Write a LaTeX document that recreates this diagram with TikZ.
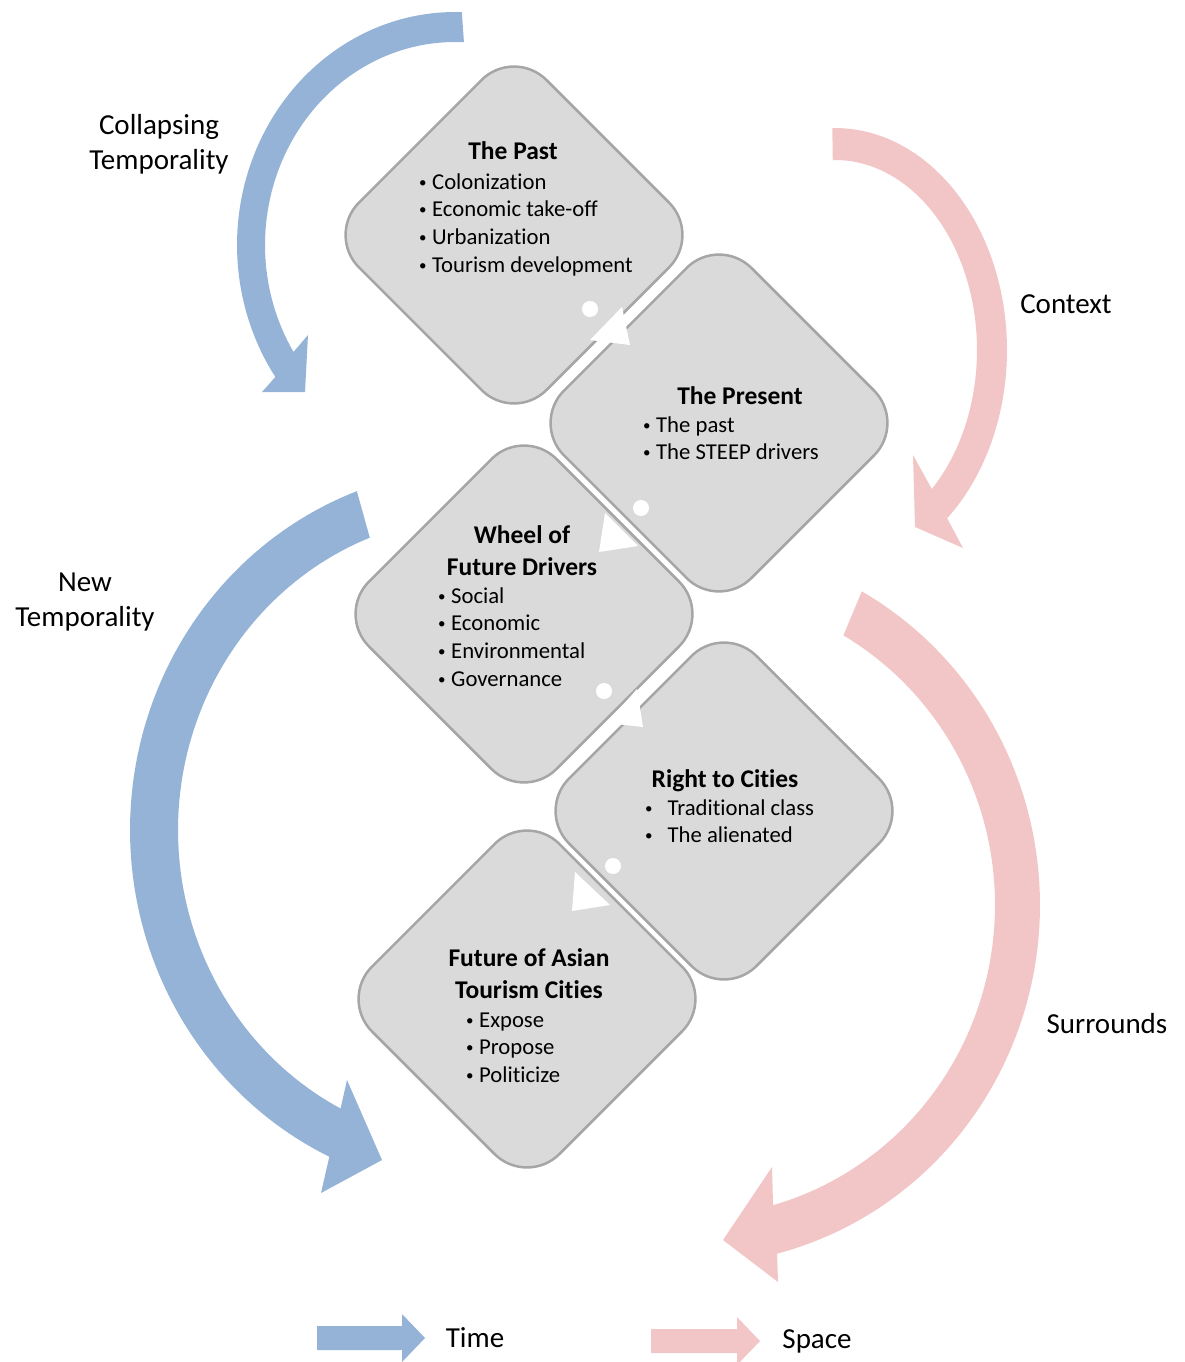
\documentclass[tikz,border=0pt]{standalone}
\usepackage{fontspec}
\setmainfont{Carlito}[Ligatures=NoCommon]
\usetikzlibrary{shapes.geometric}
\definecolor{timeblue}{RGB}{149,179,215}
\definecolor{spacepink}{RGB}{242,198,198}
\definecolor{boxfill}{RGB}{218,218,218}
\definecolor{boxline}{RGB}{166,166,166}
% small list bullet
\newcommand{\bul}{\raisebox{2.2pt}{\fontsize{15}{15}\selectfont •}}

\begin{document}
\begin{tikzpicture}[x=1pt,y=-1pt,
  stage/.style={diamond, aspect=1, draw=boxline, fill=boxfill, line width=2.5pt,
    rounded corners=46pt, minimum width=376pt, minimum height=376pt, inner sep=0pt},
  title/.style={font=\fontsize{25.5}{32}\selectfont\bfseries, align=center, inner sep=0pt},
  item/.style={font=\fontsize{22.7}{27.7}\selectfont, anchor=base west, inner sep=0pt},
  side/.style={font=\fontsize{29}{35}\selectfont, align=center, inner sep=0pt},
  dot/.style={circle, fill=white, minimum size=16pt, inner sep=0pt},
  pointer/.style={fill=white},
]
\useasboundingbox (0,0) rectangle (1184,1362);

% ---- time arrows (blue) ----
\fill[timeblue]
  plot[domain=271.8:145.5, samples=70] ({455+218*cos(\x)}, {245+233*sin(\x)})
  -- (262,392) -- (305,392) -- (308,335)
  -- plot[domain=148.2:272.7, samples=70] ({455+190*cos(\x)}, {245+203*sin(\x)})
  -- cycle;
\fill[timeblue]
  plot[domain=249.4:115.5, samples=90] ({480+350*cos(\x)}, {830+362*sin(\x)})
  -- (321,1193) -- (382,1160) -- (347,1080)
  -- plot[domain=117.5:248.6, samples=90] ({480+302*cos(\x)}, {830+314*sin(\x)})
  -- cycle;

% ---- space arrows (pink) ----
\fill[spacepink]
  plot[domain=-90.9:49.3, samples=70] ({835+172*cos(\x)}, {350+222*sin(\x)})
  -- (963,548) -- (915,527) -- (913,455)
  -- plot[domain=47:-90.9, samples=70] ({835+142*cos(\x)}, {350+190*sin(\x)})
  -- cycle;
\fill[spacepink]
  plot[domain=-60.6:75.6, samples=90] ({690+350*cos(\x)}, {905+360*sin(\x)})
  -- (778,1282) -- (723,1240) -- (772,1167)
  -- plot[domain=74.2:-59.8, samples=90] ({690+305*cos(\x)}, {905+312*sin(\x)})
  -- cycle;

% ---- stages ----
\node[stage] (past)    at (514,235) {};
\node[stage] (present) at (719,423) {};
\node[stage] (wheel)   at (524,614) {};
\node[stage] (right)   at (724,811) {};
\node[stage] (future)  at (527,999) {};

% ---- links between stages ----
\node[dot] (l1) at (590,309) {};
\fill[pointer] (590,340) -- (622,307) -- (630,345) -- cycle;
\node[dot] (l2) at (641,508) {};
\fill[pointer] (605,513) -- (638,546) -- (599,552) -- cycle;
\node[dot] (l3) at (604,691) {};
\fill[pointer] (607,723) -- (637,689) -- (643,727) -- cycle;
\node[dot] (l4) at (613,866) {};
\fill[pointer] (575,872) -- (610,905) -- (572,911) -- cycle;

% ---- stage texts ----
\node[title, anchor=base] (pastT) at (513,160) {The Past};
\foreach \t [count=\i] in {Colonization, Economic take-off, Urbanization, Tourism development}
  \node[item] (pastI\i) at (419,{161.5+27.7*\i}) {\bul\hspace{5.5pt}\t};

\node[title, anchor=base] (presentT) at (740,404) {The Present};
\foreach \t [count=\i] in {The past, The STEEP drivers}
  \node[item] (presentI\i) at (643,{404.5+27.7*\i}) {\bul\hspace{5.5pt}\t};

\node[title, anchor=base] (wheelT1) at (522,543) {Wheel of};
\node[title, anchor=base] (wheelT2) at (522,575) {Future Drivers};
\foreach \t [count=\i] in {Social, Economic, Environmental, Governance}
  \node[item] (wheelI\i) at (438,{575.5+27.7*\i}) {\bul\hspace{5.5pt}\t};

\node[title, anchor=base] (rightT) at (725,787) {Right to Cities};
\foreach \t [count=\i] in {Traditional class, The alienated}
  \node[item] (rightI\i) at (645,{787.5+27.7*\i}) {\bul\hspace{15pt}\t};

\node[title, anchor=base] (futureT1) at (529,966) {Future of Asian};
\node[title, anchor=base] (futureT2) at (529,998) {Tourism Cities};
\foreach \t [count=\i] in {Expose, Propose, Politicize}
  \node[item] (futureI\i) at (466,{999.5+27.7*\i}) {\bul\hspace{5.5pt}\t};

% ---- side labels ----
\node[side] (collapse) at (159,144) {Collapsing\\Temporality};
\node[side] (newtime)  at (85,602)  {New\\Temporality};
\node[side] (context)  at (1066,304) {Context};
\node[side] (surround) at (1107,1024) {Surrounds};

% ---- legend ----
\fill[timeblue] (317,1326) -- (402,1326) -- (402,1314) -- (425,1338)
  -- (402,1362) -- (402,1350) -- (317,1350) -- cycle;
\node[side] (timeL) at (475,1338) {Time};
\fill[spacepink] (651,1329) -- (737,1329) -- (737,1317) -- (760,1341)
  -- (737,1365) -- (737,1353) -- (651,1353) -- cycle;
\node[side] (spaceL) at (817,1341) {Space};
\end{tikzpicture}
\end{document}
